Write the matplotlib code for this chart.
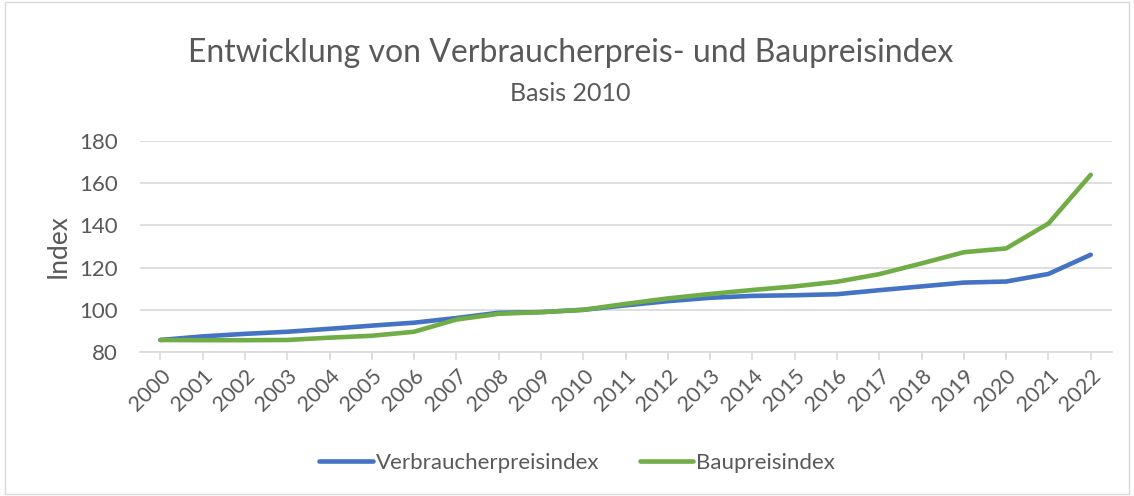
import matplotlib
matplotlib.use("Agg")
import matplotlib.pyplot as plt
from matplotlib.patches import Rectangle

years = [str(y) for y in range(2000, 2023)]
vpi = [85.7, 87.4, 88.6, 89.6, 91.0, 92.5, 93.9, 96.1, 98.6, 98.9, 100.0,
       102.1, 104.1, 105.7, 106.6, 106.9, 107.4, 109.3, 111.1, 112.9, 113.4,
       117.0, 126.1]
bpi = [85.7, 85.6, 85.6, 85.7, 86.8, 87.7, 89.6, 95.4, 98.1, 98.9, 100.0,
       102.8, 105.4, 107.5, 109.4, 111.1, 113.3, 116.9, 122.0, 127.3, 129.1,
       140.9, 164.0]
yticks = [80, 100, 120, 140, 160, 180]

plt.rcParams['font.family'] = ['Lato', 'DejaVu Sans']
txt = '#595959'
grid = '#D9D9D9'

fig = plt.figure(figsize=(11.34, 4.96), dpi=100)
fig.patches.append(Rectangle((0.004, 0.004), 0.992, 0.992, transform=fig.transFigure,
                             fill=False, edgecolor='#D9D9D9', linewidth=1))
ax = fig.add_axes([0.1235, 0.2903, 0.857, 0.4254])
x = list(range(len(years)))
ax.plot(x, vpi, color='#4472C4', linewidth=3.3, solid_capstyle='round', label='Verbraucherpreisindex')
ax.plot(x, bpi, color='#70AD47', linewidth=3.3, solid_capstyle='round', label='Baupreisindex')

ax.set_xlim(-0.48, 22.5)
ax.set_ylim(80, 180)
ax.set_yticks(yticks)
ax.set_xticks(x)
ax.set_xticklabels(years, rotation=45, ha='right', rotation_mode='anchor')
ax.yaxis.grid(True, color=grid, linewidth=1.2)
ax.set_axisbelow(True)
for s in ['top', 'right', 'left']:
    ax.spines[s].set_visible(False)
ax.spines['bottom'].set_color(grid)
ax.spines['bottom'].set_linewidth(1.2)
ax.tick_params(axis='y', length=0, labelsize=16, labelcolor=txt, pad=16)
ax.tick_params(axis='x', length=6, color=grid, width=1.2, labelsize=15.5, labelcolor=txt, pad=4)
ax.set_ylabel('Index', fontsize=19, color=txt, labelpad=6)

fig.text(0.503, 0.893, 'Entwicklung von Verbraucherpreis- und Baupreisindex', ha='center', va='center',
         fontsize=23, color=txt)
fig.text(0.503, 0.812, 'Basis 2010', ha='center', va='center', fontsize=18, color=txt)

fig.legend(loc='center', bbox_to_anchor=(0.509, 0.066), ncol=2, frameon=False, fontsize=16,
           labelcolor=txt, handlelength=2.4, columnspacing=1.8, handletextpad=0.15)

fig.savefig('out.png', dpi=100)
